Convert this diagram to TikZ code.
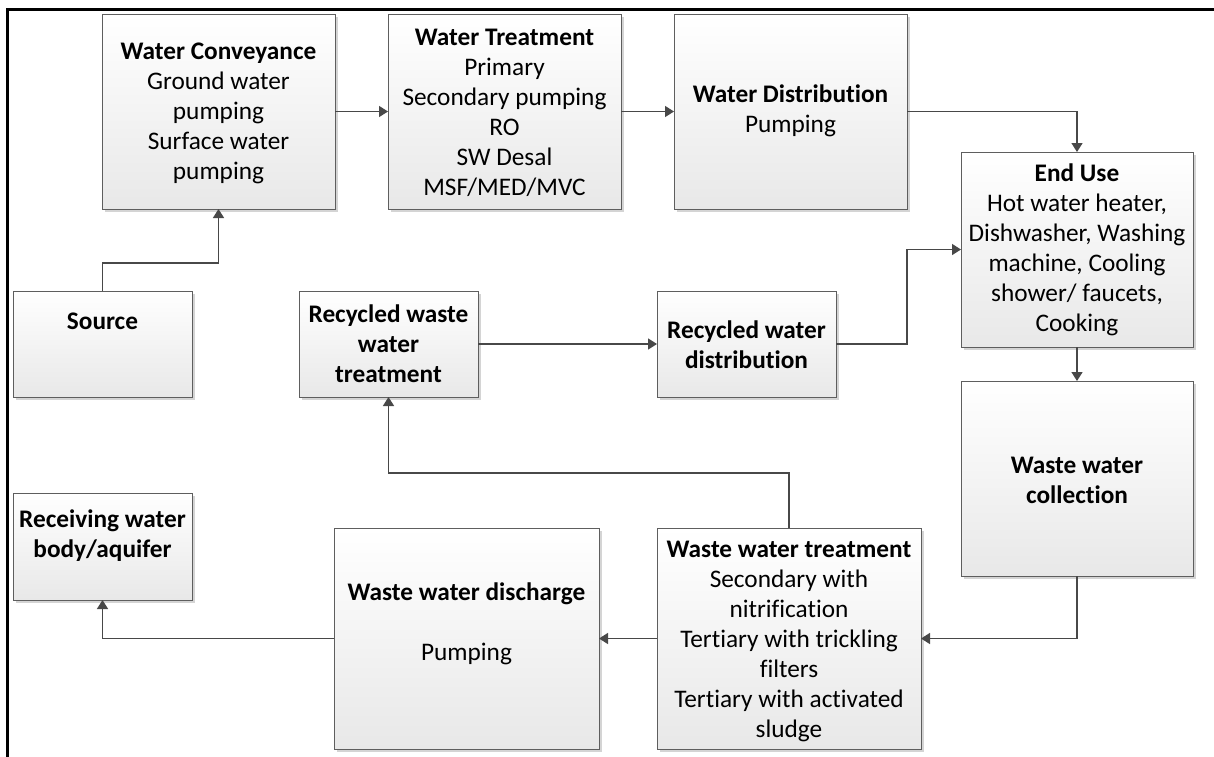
\documentclass[tikz,border=0pt]{standalone}
\usepackage{fontspec}
\setmainfont{Carlito}[Ligatures={NoCommon}]
\usetikzlibrary{arrows.meta,shadows}
\definecolor{boxline}{HTML}{5E5E5E}
\definecolor{connline}{HTML}{484848}
\definecolor{shadowgray}{HTML}{D4D4D4}
\begin{document}
\begin{tikzpicture}[x=1pt,y=-1pt,
  box/.style={draw=boxline, line width=0.9pt, inner sep=0pt, outer sep=0pt,
    top color=white, bottom color=black!9,
    general shadow={fill=shadowgray, shadow xshift=3pt, shadow yshift=-3pt}},
  txt/.style={align=center, inner sep=0pt, font=\fontsize{25.3}{30}\selectfont},
  conn/.style={draw=connline, line width=1.4pt, -{Triangle[length=9pt,width=11pt]}},
  frame/.style={draw=black, line width=3pt}]
\fill[white] (0,0) rectangle (1214,756);
\useasboundingbox (0,0) rectangle (1214,756);
\draw[frame] (7.5,9.5) rectangle (1230,770);

% boxes
\node[box, minimum width=233pt, minimum height=195pt] (conv)   at (218.5,111.5) {};
\node[box, minimum width=233pt, minimum height=195pt] (treat)  at (504.5,111.5) {};
\node[box, minimum width=233pt, minimum height=195pt] (dist)   at (790.5,111.5) {};
\node[box, minimum width=232pt, minimum height=195pt] (enduse) at (1077,249.5) {};
\node[box, minimum width=179pt, minimum height=106pt] (source) at (102.5,344) {};
\node[box, minimum width=179pt, minimum height=106pt] (rwt)    at (388.5,344) {};
\node[box, minimum width=179pt, minimum height=106pt] (rwd)    at (746.5,344) {};
\node[box, minimum width=232pt, minimum height=195pt] (wwc)    at (1077,478.5) {};
\node[box, minimum width=179pt, minimum height=107pt] (recv)   at (102.5,546.5) {};
\node[box, minimum width=265pt, minimum height=221pt] (disch)  at (466.5,638.5) {};
\node[box, minimum width=264pt, minimum height=221pt] (wwt)    at (789,638.5) {};

% texts
\node[txt] (tconv) at (218.5,113) {\textbf{Water Conveyance}\\Ground water\\pumping\\Surface water\\pumping};
\node[txt] (ttreat) at (504.5,113) {\textbf{Water Treatment}\\Primary\\Secondary pumping\\RO\\SW Desal\\MSF/MED/MVC};
\node[txt] (tdist) at (790.5,111) {\textbf{Water Distribution}\\Pumping};
\node[txt] (tend) at (1077,250) {\textbf{End Use}\\Hot water heater,\\Dishwasher, Washing\\machine, Cooling\\shower/ faucets,\\Cooking};
\node[txt] (tsource) at (102.5,321) {\textbf{Source}};
\node[txt] (trwt) at (388.5,344) {\textbf{Recycled waste}\\\textbf{water}\\\textbf{treatment}};
\node[txt] (trwd) at (746.5,345) {\textbf{Recycled water}\\\textbf{distribution}};
\node[txt] (twwc) at (1077,480) {\textbf{Waste water}\\\textbf{collection}};
\node[txt] (trecv) at (102.5,536) {\textbf{Receiving water}\\\textbf{body/aquifer}};
\node[txt] (tdisch) at (466.5,624) {\textbf{Waste water discharge}\\[30pt]Pumping};
\node[txt] (twwt) at (789,641) {\textbf{Waste water treatment}\\Secondary with\\nitrification\\Tertiary with trickling\\filters\\Tertiary with activated\\sludge};

% connectors
\draw[conn] (source.north) -- ++(0,-28) -| (conv.south);
\draw[conn] (conv.east) -- (treat.west);
\draw[conn] (treat.east) -- (dist.west);
\draw[conn] (dist.east) -| (enduse.north);
\draw[conn] (rwd.east) -- ++(71,0) |- (enduse.west);
\draw[conn] (enduse.south) -- (wwc.north);
\draw[conn] (wwc.south) |- (wwt.east);
\draw[conn] (wwt.west) -- (disch.east);
\draw[conn] (disch.west) -| (recv.south);
\draw[conn] (wwt.north) -- ++(0,-55) -| (rwt.south);
\draw[conn] (rwt.east) -- (rwd.west);
\end{tikzpicture}
\end{document}
